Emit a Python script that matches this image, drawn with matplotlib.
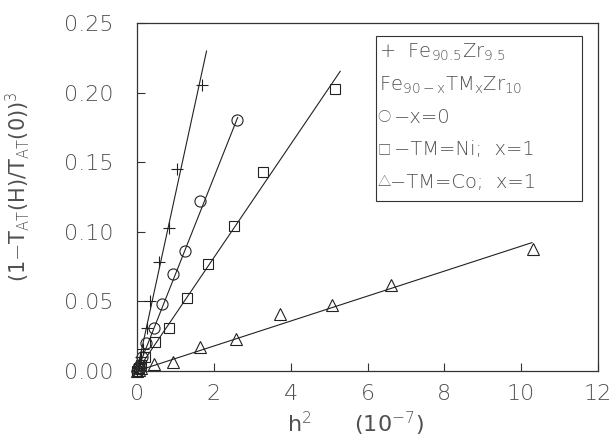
import numpy as np
import matplotlib
matplotlib.use("Agg")
import matplotlib.pyplot as plt
from matplotlib.patches import Rectangle

# -------------------------------
# Data
# -------------------------------

# Fe90.5Zr9.5  (+)
plus_x = [0.00, 0.03, 0.06, 0.10, 0.15, 0.27, 0.34, 0.57, 0.82, 1.05, 1.68]
plus_y = [0.000, 0.002, 0.005, 0.010, 0.016, 0.031, 0.050, 0.078, 0.1025, 0.145, 0.2055]
plus_slope = 0.127

# x=0  (circle)
circ_x = [0.00, 0.03, 0.07, 0.13, 0.23, 0.43, 0.64, 0.93, 1.25, 1.64, 2.60]
circ_y = [0.000, 0.002, 0.004, 0.010, 0.020, 0.031, 0.048, 0.070, 0.0862, 0.122, 0.180]
circ_slope = 0.0695

# TM=Ni, x=1  (square)
sq_x = [0.00, 0.04, 0.10, 0.22, 0.47, 0.82, 1.29, 1.86, 2.53, 3.29, 5.16]
sq_y = [0.000, 0.002, 0.004, 0.010, 0.021, 0.031, 0.0527, 0.0766, 0.104, 0.143, 0.2024]
sq_slope = 0.0407

# TM=Co, x=1  (triangle)
tri_x = [0.00, 0.05, 0.10, 0.43, 0.95, 1.64, 2.58, 3.71, 5.07, 6.61, 10.30]
tri_y = [0.000, 0.001, 0.002, 0.0048, 0.0067, 0.017, 0.0228, 0.0407, 0.0474, 0.0618, 0.0874]
tri_slope = 0.00897

x_ticks = [0, 2, 4, 6, 8, 10, 12]
y_ticks = [0.00, 0.05, 0.10, 0.15, 0.20, 0.25]

# -------------------------------
# Plot
# -------------------------------

txt = "#505050"
plt.rcParams["font.family"] = ["DejaVu Sans", "Noto Sans CJK JP"]
plt.rcParams["font.weight"] = "light"
plt.rcParams["mathtext.fontset"] = "custom"
plt.rcParams["mathtext.rm"] = "DejaVu Sans:light"
plt.rcParams["mathtext.it"] = "DejaVu Sans:light"

fig = plt.figure(figsize=(6.15, 4.41), dpi=100)
ax = fig.add_axes([137 / 615, 1 - 371 / 441, 461 / 615, 348 / 441])

series = [
    (plus_x, plus_y, plus_slope, 1.81, "+", 9),
    (circ_x, circ_y, circ_slope, 2.62, "o", 8),
    (sq_x, sq_y, sq_slope, 5.29, "s", 7),
    (tri_x, tri_y, tri_slope, 10.28, "^", 8),
]

for xs, ys, k, xend, m, ms in series:
    ax.plot(xs, ys, linestyle="none", marker=m, markersize=ms,
            markerfacecolor="none", markeredgecolor="#222222", markeredgewidth=0.8,
            clip_on=False)
    lx = np.array([0, xend])
    ax.plot(lx, k * lx, color="#222222", linewidth=0.8)

ax.set_xlim(0, 12)
ax.set_ylim(0, 0.25)
ax.set_xticks(x_ticks)
ax.set_yticks(y_ticks)
ax.set_yticklabels(["%.2f" % v for v in y_ticks])
ax.tick_params(direction="in", length=6, width=0.8, colors="#333333",
               labelcolor=txt, labelsize=16)
ax.tick_params(axis="y", pad=17)
ax.tick_params(axis="x", pad=9)
for s in ax.spines.values():
    s.set_linewidth(0.9)
    s.set_color("#333333")

ax.set_xlabel(r"h$^2$      (10$^{-7}$)", fontsize=16, color=txt)
ax.xaxis.set_label_coords(0.473, -0.112)
ax.set_ylabel(r"(1$-$T$_{\rm AT}$(H)/T$_{\rm AT}$(0))$^3$", fontsize=15, color=txt)
ax.yaxis.set_label_coords(-0.228, 0.529)

# legend box drawn by hand
ax.add_patch(Rectangle((0.518, 0.488), 0.447, 0.476, transform=ax.transAxes,
                       fill=False, edgecolor="#333333", linewidth=0.8))

row_y = [0.915 - i * 0.093 for i in range(5)]
ax.text(0.525, row_y[0], r"+  Fe$_{90.5}$Zr$_{9.5}$", transform=ax.transAxes,
        fontsize=14, color=txt, va="center", ha="left")
ax.text(0.525, row_y[1], r"Fe$_{90-x}$TM$_x$Zr$_{10}$", transform=ax.transAxes,
        fontsize=14, color=txt, va="center", ha="left")

leg_sym = ["\u25cb", "\u25a1", "\u25b3"]
leg_txt = ["\u2212x=0", "\u2212TM=Ni;  x=1", "\u2212TM=Co;  x=1"]
leg_txt_x = [0.558, 0.558, 0.548]
for i in range(3):
    ax.text(0.521, row_y[i + 2], leg_sym[i], transform=ax.transAxes,
            fontsize=9.5, color=txt, va="center", ha="left")
    ax.text(leg_txt_x[i], row_y[i + 2], leg_txt[i], transform=ax.transAxes,
            fontsize=14, color=txt, va="center", ha="left")

plt.savefig("out.png", dpi=100)
